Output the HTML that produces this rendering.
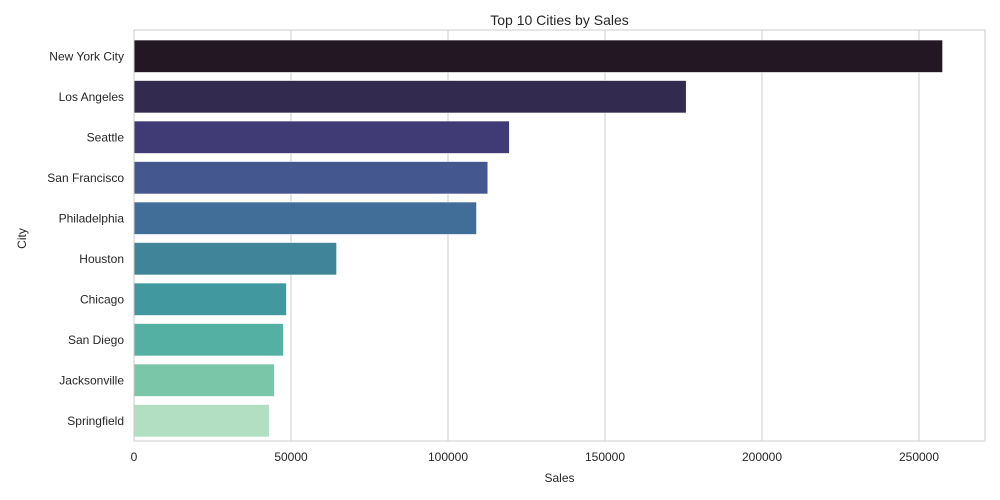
<!DOCTYPE html>
<html><head><meta charset="utf-8"><style>body{margin:0;background:#fff}svg{display:block;font-family:"Liberation Sans",sans-serif}</style></head>
<body>
<svg id="c" width="1000" height="500"></svg>
<script>
const cities=["New York City","Los Angeles","Seattle","San Francisco","Philadelphia","Houston","Chicago","San Diego","Jacksonville","Springfield"];
const sales=[257500,175851,119541,112669,109077,64505,48540,47521,44713,43054];
const colors=["#221722","#322a4f","#403a75","#45578f","#416e98","#40849a","#41999f","#54b0a2","#79c6a9","#b2dfc2"];
const ticks=[0,50000,100000,150000,200000,250000];
const L=134,R=985,T=36,B=441;
const x=v=>L+v*157/50000;
const band=(B-T)/cities.length;
const y=i=>T+band*i;
const s=document.getElementById('c');const NS="http://www.w3.org/2000/svg";
function mk(t,a,txt){const e=document.createElementNS(NS,t);for(const k in a)e.setAttribute(k,a[k]);if(txt!==undefined)e.textContent=txt;s.appendChild(e);return e;}
ticks.forEach(t=>{
const g=mk('line',{x1:x(t),x2:x(t),y1:T-6,y2:B,stroke:'#cccccc','stroke-width':1});


const l=mk('text',{x:x(t),y:B+20,'text-anchor':'middle','font-size':12,fill:'#262626'},t);


});
cities.forEach((c,i)=>{
const b=mk('rect',{x:x(0),y:y(i)+band*0.1,width:x(sales[i])-x(0),height:band*0.8,fill:colors[i],stroke:'#fff','stroke-width':0.5});


const l=mk('text',{x:L-10,y:y(i)+band/2+4,'text-anchor':'end','font-size':12,fill:'#262626'},c);


});
const f=mk('rect',{x:L,y:T-6,width:R-L,height:B-T+6,fill:'none',stroke:'#cccccc','stroke-width':1});


const ti=mk('text',{x:(L+R)/2,y:25,'text-anchor':'middle','font-size':14,fill:'#262626'},'Top 10 Cities by Sales');


const xt=mk('text',{x:(L+R)/2,y:482,'text-anchor':'middle','font-size':12,fill:'#262626'},'Sales');


const yt=mk('text',{x:26,y:(T+B)/2,'text-anchor':'middle','font-size':12,fill:'#262626',transform:'rotate(-90 26 '+(T+B)/2+')'},'City');


</script>
</body></html>
